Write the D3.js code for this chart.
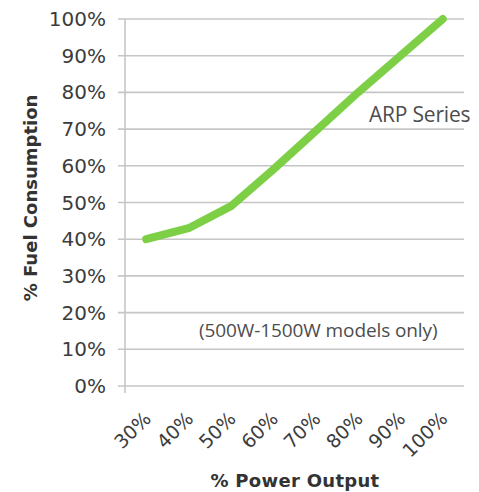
<!DOCTYPE html>
<html>
<head>
<meta charset="utf-8">
<script src="https://cdn.jsdelivr.net/npm/d3@7"></script>
<style>
  body { margin: 0; background: #fff; }
</style>
</head>
<body>
<div id="chart"></div>
<script>
const categories = ["30%", "40%", "50%", "60%", "70%", "80%", "90%", "100%"]
const fuelValues = [40, 43, 49, 59, 69.5, 80, 90, 100]
const yTicks = [0, 10, 20, 30, 40, 50, 60, 70, 80, 90, 100]

const width = 479
const height = 492
const plotLeft = 125, plotRight = 464, plotTop = 19, plotBottom = 386

const svg = d3.select("#chart").append("svg")
  .attr("width", width)
  .attr("height", height)

const x = d3.scaleBand().domain(categories).range([plotLeft, plotRight])
const y = d3.scaleLinear().domain([0, 100]).range([plotBottom, plotTop])

// gridlines
svg.append("g")
  .selectAll("line")
  .data(yTicks)
  .join("line")
    .attr("x1", plotLeft - 7)
    .attr("x2", plotRight)
    .attr("y1", d => y(d))
    .attr("y2", d => y(d))
    .attr("stroke", "#c6c6c6")
    .attr("stroke-width", 1.6)

// vertical axis line
svg.append("line")
  .attr("x1", plotLeft).attr("x2", plotLeft)
  .attr("y1", y(100)).attr("y2", plotBottom + 7)
  .attr("stroke", "#c6c6c6")
  .attr("stroke-width", 1.6)

// y tick labels
svg.append("g")
  .selectAll("text")
  .data(yTicks)
  .join("text")
    .attr("x", 106)
    .attr("y", d => y(d) + 7)
    .attr("text-anchor", "end")
    .attr("font-family", "DejaVu Sans, sans-serif")
    .attr("font-size", "20px")
    .attr("fill", "#3c3c3c")
    .text(d => d + "%")

// x tick labels
svg.append("g")
  .selectAll("text")
  .data(categories)
  .join("text")
    .attr("text-anchor", "end")
    .attr("transform", d => `translate(${x(d) + x.bandwidth() / 2 + 6},${plotBottom + 34}) rotate(-45)`)
    .attr("font-family", "DejaVu Sans, sans-serif")
    .attr("font-size", "19px")
    .attr("fill", "#3c3c3c")
    .text(d => d)

// line
const line = d3.line()
  .x((d, i) => x(categories[i]) + x.bandwidth() / 2)
  .y(d => y(d))

svg.append("path")
  .datum(fuelValues)
  .attr("d", line)
  .attr("fill", "none")
  .attr("stroke", "#7dcf45")
  .attr("stroke-width", 8)
  .attr("stroke-linecap", "round")
  .attr("stroke-linejoin", "round")

// annotations
svg.append("text")
  .attr("x", 369).attr("y", 122)
  .attr("font-family", "Open Sans, sans-serif")
  .attr("font-size", "21px")
  .attr("letter-spacing", "-0.2px")
  .attr("fill", "#4d4d4d")
  .text("ARP Series")

svg.append("text")
  .attr("x", 199).attr("y", 337)
  .attr("font-family", "Open Sans, sans-serif")
  .attr("font-size", "19px")
  .attr("letter-spacing", "-0.1px")
  .attr("fill", "#4d4d4d")
  .text("(500W-1500W models only)")

// axis titles
svg.append("text")
  .attr("x", 295).attr("y", 487)
  .attr("text-anchor", "middle")
  .attr("font-family", "DejaVu Sans, sans-serif")
  .attr("font-weight", "bold")
  .attr("font-size", "18px")
  .attr("letter-spacing", "0.3px")
  .attr("fill", "#333")
  .text("% Power Output")

svg.append("text")
  .attr("transform", "translate(37,198) rotate(-90)")
  .attr("text-anchor", "middle")
  .attr("font-family", "DejaVu Sans, sans-serif")
  .attr("font-weight", "bold")
  .attr("font-size", "18px")
  .attr("fill", "#333")
  .text("% Fuel Consumption")
</script>
</body>
</html>
